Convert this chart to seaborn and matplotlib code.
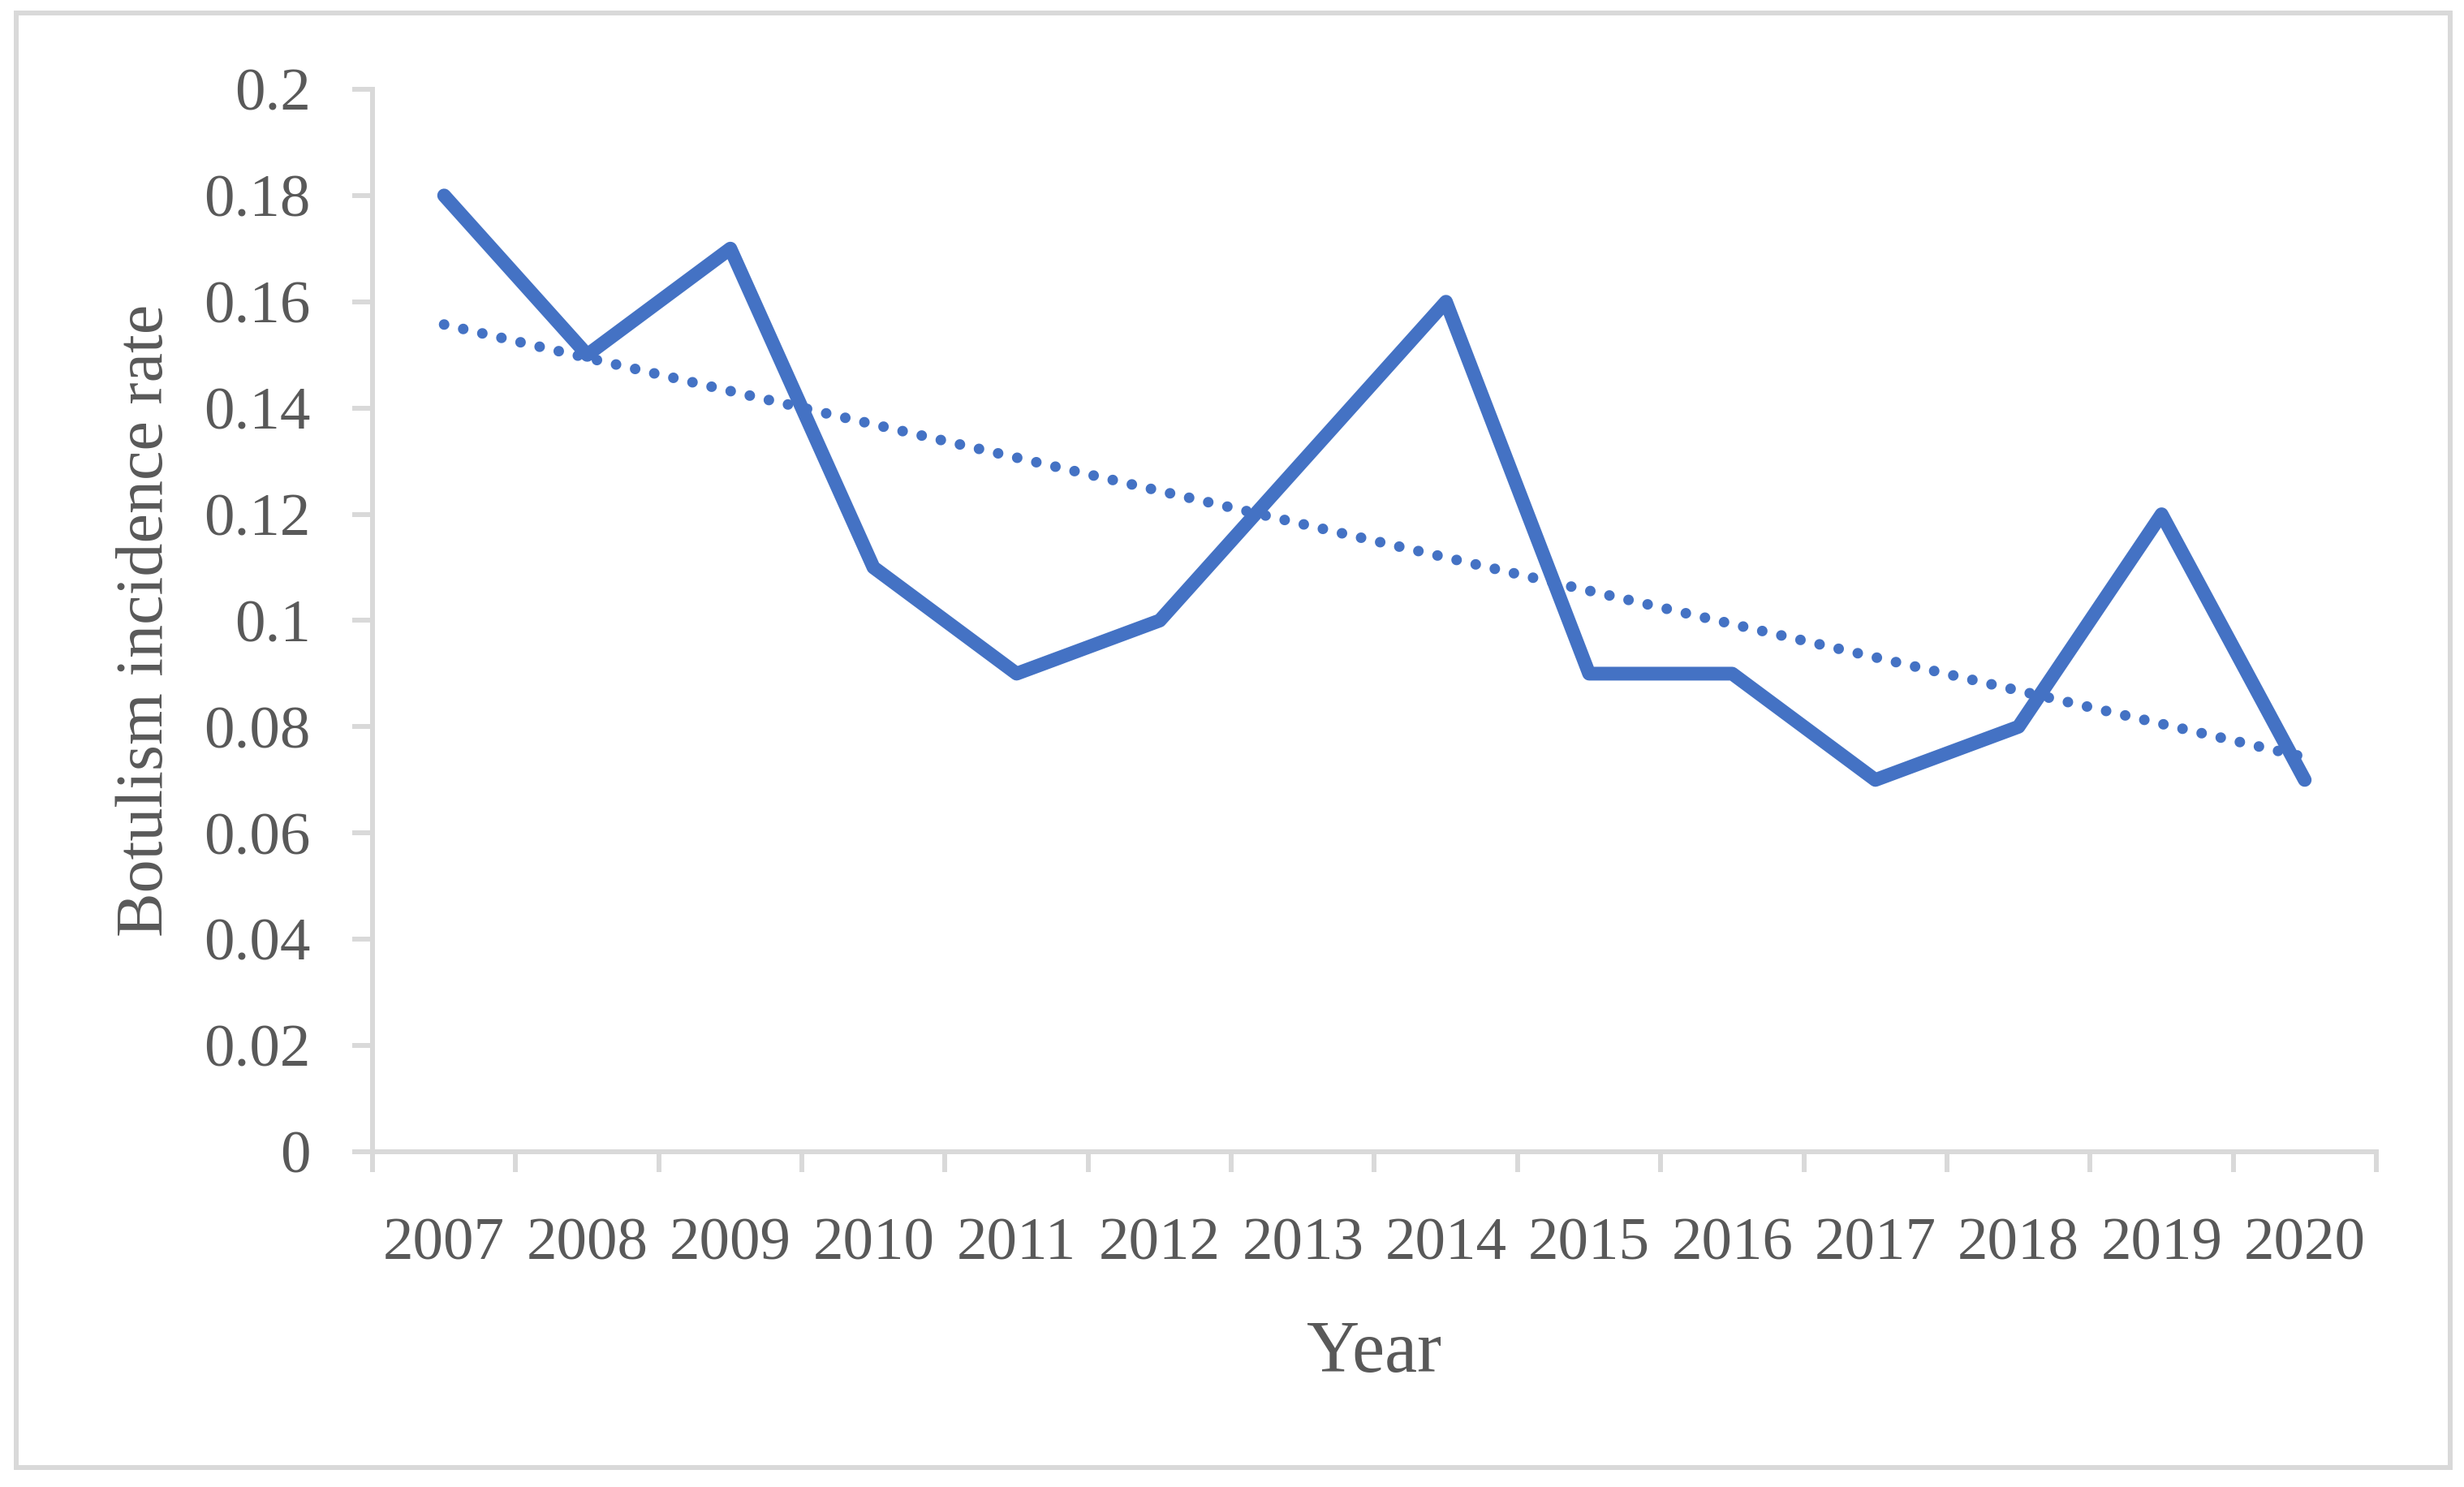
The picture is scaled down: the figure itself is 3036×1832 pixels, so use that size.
import numpy as np
import pandas as pd
import seaborn as sns
import matplotlib
matplotlib.use("Agg")
import matplotlib.pyplot as plt
from matplotlib.patches import Rectangle

# ---- data ----
years = ["2007", "2008", "2009", "2010", "2011", "2012", "2013",
         "2014", "2015", "2016", "2017", "2018", "2019", "2020"]
incidence = [0.18, 0.15, 0.17, 0.11, 0.09, 0.10, 0.13,
             0.16, 0.09, 0.09, 0.07, 0.08, 0.12, 0.07]
y_ticks = [0, 0.02, 0.04, 0.06, 0.08, 0.10, 0.12, 0.14, 0.16, 0.18, 0.20]
y_tick_labels = ["0", "0.02", "0.04", "0.06", "0.08", "0.1",
                 "0.12", "0.14", "0.16", "0.18", "0.2"]
x_title = "Year"
y_title = "Botulism incidence rate"

# ---- style ----
sns.set_theme(style="white")
plt.rcParams["font.family"] = ["Liberation Serif", "DejaVu Serif"]

LINE_C = "#4472C4"
AXIS_C = "#d9d9d9"
TEXT_C = "#595959"

df = pd.DataFrame({"pos": np.arange(len(years)), "year": years, "rate": incidence})

fig = plt.figure(figsize=(30.36, 18.32), dpi=100)
ax = fig.add_axes([0.1512, 0.2254, 0.8132, 0.7146])

sns.lineplot(data=df, x="pos", y="rate", ax=ax, color=LINE_C, linewidth=12.2,
             solid_capstyle="round", solid_joinstyle="round")
sns.regplot(data=df, x="pos", y="rate", ax=ax, scatter=False, ci=None, truncate=True,
            line_kws=dict(color=LINE_C, linewidth=9.4,
                          linestyle=(0, (0.001, 1.85)), dash_capstyle="round"))

ax.set_xlim(-0.5, len(years) - 0.5)
ax.set_ylim(0, 0.2)

# x axis: labels at categories, tick marks between categories
ax.set_xticks(np.arange(len(years)))
ax.set_xticklabels(years)
ax.set_xticks(np.arange(-0.5, len(years), 1.0), minor=True)
ax.tick_params(axis="x", which="major", length=0, pad=58, labelsize=54, labelcolor=TEXT_C)
ax.tick_params(axis="x", which="minor", length=18, width=4.3, color=AXIS_C, direction="out",
               bottom=True)

ax.set_yticks(y_ticks)
ax.set_yticklabels(y_tick_labels)
ax.tick_params(axis="y", which="major", length=18, width=4.3, color=AXIS_C, direction="out",
               pad=37, labelsize=54, labelcolor=TEXT_C, left=True)

ax.grid(False)
for s in ["top", "right"]:
    ax.spines[s].set_visible(False)
for s in ["left", "bottom"]:
    ax.spines[s].set_color(AXIS_C)
    ax.spines[s].set_linewidth(4.3)

ax.set_xlabel(x_title, fontsize=65, color=TEXT_C)
ax.xaxis.set_label_coords(0.5, -0.19)
ax.xaxis.label.set_va("center")
ax.set_ylabel(y_title, fontsize=59, color=TEXT_C)
ax.yaxis.set_label_coords(-0.113, 0.5)
ax.yaxis.label.set_va("center")

# chart-area border
fig.add_artist(Rectangle((0.0066, 0.0131), 0.9878, 0.9782, transform=fig.transFigure,
                         fill=False, edgecolor=AXIS_C, linewidth=4.3))

fig.savefig("out.png", dpi=100)
